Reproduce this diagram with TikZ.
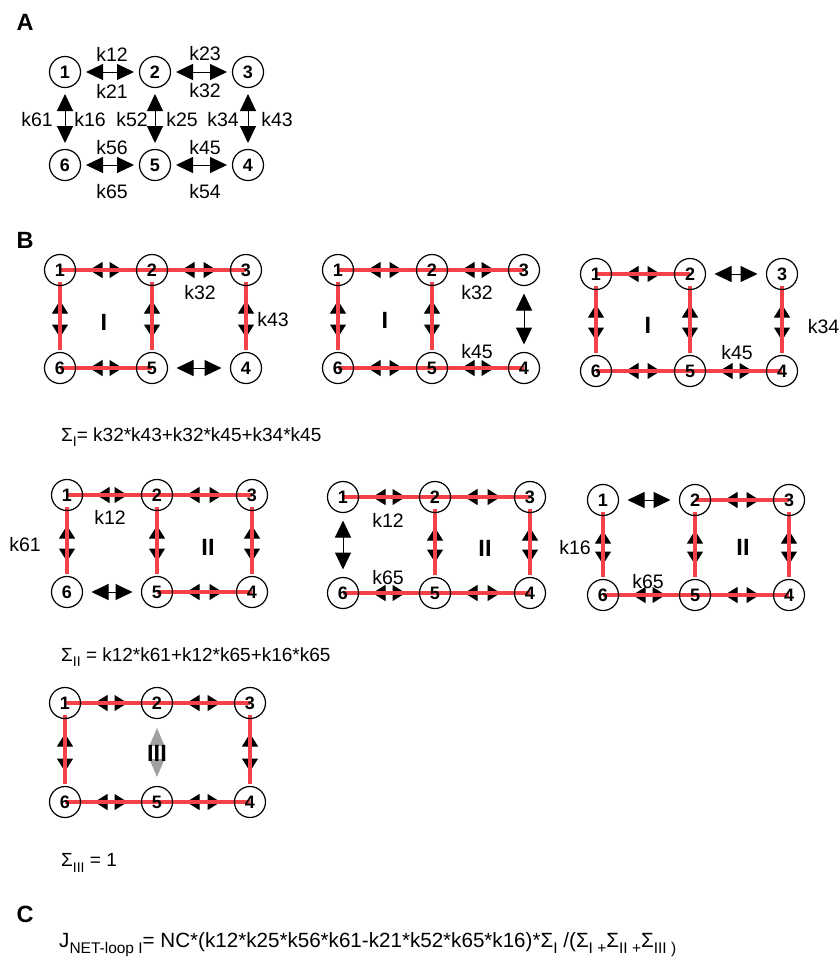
\documentclass[tikz,border=0pt]{standalone}
\usepackage{fontspec}
\setmainfont{Liberation Sans}
\usetikzlibrary{arrows.meta,calc}
\pgfdeclarelayer{back}
\pgfsetlayers{back,main}
\definecolor{bondred}{RGB}{242,66,72}
\definecolor{softgrey}{RGB}{160,160,160}
% small lowered text for indices
\newcommand\lowsub[1]{\raisebox{-0.28em}{\fontsize{14}{14}\selectfont #1}}
\newcommand\lowsubc[1]{\raisebox{-0.28em}{\fontsize{15.5}{15.5}\selectfont #1}}
% six states of a network: prefix, three column positions, two row positions
\newcommand\netnodes[6]{%
  \node[st] (#1-1) at (#2,#5) {1};
  \node[st] (#1-2) at (#3,#5) {2};
  \node[st] (#1-3) at (#4,#5) {3};
  \node[st] (#1-6) at (#2,#6) {6};
  \node[st] (#1-5) at (#3,#6) {5};
  \node[st] (#1-4) at (#4,#6) {4};}
\newcommand\hred[2]{\draw[redline] (#1.center) -- (#2.center);}
\newcommand\vred[2]{\draw[redline] ($(#1.center)+(0,12)$) -- ($(#2.center)+(0,-18)$);}
\tikzset{
  st/.style={circle, draw, line width=1.2pt, minimum size=31pt, inner sep=0pt, outer sep=0pt,
    font=\bfseries\fontsize{18}{18}\selectfont},
  lab/.style={inner sep=0pt, font=\fontsize{19.5}{21}\selectfont},
  eqn/.style={inner sep=0pt, anchor=west, font=\fontsize{19}{21}\selectfont},
  eqc/.style={inner sep=0pt, anchor=west, font=\fontsize{20.6}{22}\selectfont},
  rom/.style={inner sep=0pt, font=\bfseries\fontsize{23.5}{24}\selectfont},
  panel/.style={inner sep=0pt, font=\bfseries\fontsize{23.5}{24}\selectfont},
  bigtips/.style={arrows={Triangle[length=17pt,width=16pt]-Triangle[length=17pt,width=16pt]}},
  smalltips/.style={arrows={Triangle[length=13pt,width=16pt]-Triangle[length=13pt,width=16pt]}},
  aH/.style={bigtips, line width=1pt, shorten <=5.5pt, shorten >=5.5pt},
  aV/.style={bigtips, line width=1pt, shorten <=6.5pt, shorten >=6.5pt},
  plainH/.style={bigtips, line width=1pt, shorten <=9pt, shorten >=9pt},
  plainV/.style={bigtips, line width=1pt, shorten <=8pt, shorten >=8pt},
  redH/.style={smalltips, line width=1pt, shorten <=14pt, shorten >=14pt},
  redV/.style={smalltips, line width=1pt, shorten <=15pt, shorten >=15pt},
  greyarr/.style={draw=softgrey, fill=softgrey, line width=1pt,
    arrows={Triangle[length=18pt,width=15pt]-Triangle[length=18pt,width=15pt]},
    shorten <=9.5pt, shorten >=9.5pt},
  redline/.style={draw=bondred, line width=4.6pt}
}
\begin{document}
\begin{tikzpicture}[x=1pt,y=-1pt]
\useasboundingbox (0,0) rectangle (840,962);

% ---------------- panel A: the full scheme with its rate constants
\node[panel] (pA) at (25,22) {A};
\netnodes{a}{65}{155}{248}{72}{165}
\draw[aH] (a-1) -- (a-2);
\draw[aH] (a-2) -- (a-3);
\draw[aH] (a-6) -- (a-5);
\draw[aH] (a-5) -- (a-4);
\draw[aV] (a-1) -- (a-6);
\draw[aV] (a-2) -- (a-5);
\draw[aV] (a-3) -- (a-4);
\node[lab] (ak12) at (112,54) {k12};
\node[lab] (ak21) at (112,91) {k21};
\node[lab] (ak23) at (205,54) {k23};
\node[lab] (ak32) at (205,91) {k32};
\node[lab] (ak61) at (37,120) {k61};
\node[lab] (ak16) at (90,120) {k16};
\node[lab] (ak52) at (132,120) {k52};
\node[lab] (ak25) at (182,120) {k25};
\node[lab] (ak34) at (223,120) {k34};
\node[lab] (ak43) at (277,120) {k43};
\node[lab] (ak56) at (112,148) {k56};
\node[lab] (ak65) at (112,192) {k65};
\node[lab] (ak45) at (205,148) {k45};
\node[lab] (ak54) at (205,192) {k54};

% ---------------- panel B: spanning trees of loop I
\node[panel] (pB) at (25,240) {B};
\netnodes{p}{60}{152}{246}{270}{368}
\netnodes{q}{338}{432}{524}{270}{368}
\netnodes{r}{596}{690}{782}{274}{371}
\begin{pgfonlayer}{back}
  % tree p
  \draw[redH] (p-1) -- (p-2); \draw[redH] (p-2) -- (p-3); \draw[redH] (p-6) -- (p-5);
  \draw[plainH] (p-5) -- (p-4);
  \draw[redV] (p-1) -- (p-6); \draw[redV] (p-2) -- (p-5); \draw[redV] (p-3) -- (p-4);
  \hred{p-1}{p-2} \hred{p-2}{p-3} \hred{p-6}{p-5}
  \vred{p-1}{p-6} \vred{p-2}{p-5} \vred{p-3}{p-4}
  % tree q
  \draw[redH] (q-1) -- (q-2); \draw[redH] (q-2) -- (q-3); \draw[redH] (q-6) -- (q-5);
  \draw[redH] (q-5) -- (q-4);
  \draw[redV] (q-1) -- (q-6); \draw[redV] (q-2) -- (q-5); \draw[plainV] (q-3) -- (q-4);
  \hred{q-1}{q-2} \hred{q-2}{q-3} \hred{q-6}{q-5} \hred{q-5}{q-4}
  \vred{q-1}{q-6} \vred{q-2}{q-5}
  % tree r
  \draw[redH] (r-1) -- (r-2); \draw[plainH] (r-2) -- (r-3); \draw[redH] (r-6) -- (r-5);
  \draw[redH] (r-5) -- (r-4);
  \draw[redV] (r-1) -- (r-6); \draw[redV] (r-2) -- (r-5); \draw[redV] (r-3) -- (r-4);
  \hred{r-1}{r-2} \hred{r-6}{r-5} \hred{r-5}{r-4}
  \vred{r-1}{r-6} \vred{r-2}{r-5} \vred{r-3}{r-4}
\end{pgfonlayer}
\node[lab] (pk32) at (200,293) {k32};
\node[rom] (pI) at (104,322) {I};
\node[lab] (pk43) at (273,320) {k43};
\node[lab] (qk32) at (477,293) {k32};
\node[rom] (qI) at (385,320) {I};
\node[lab] (qk45) at (477,352) {k45};
\node[rom] (rI) at (648,325) {I};
\node[lab] (rk45) at (737,353) {k45};
\node[lab, anchor=east] (rk34) at (839.5,327) {k34};
\node[eqn] (sigI) at (61,437) {Σ\lowsub{I}= k32*k43+k32*k45+k34*k45};

% ---------------- spanning trees of loop II
\netnodes{s}{67}{157}{252}{495}{592}
\netnodes{t}{343}{435}{530}{497}{593}
\netnodes{u}{603}{695}{789}{500}{595}
\begin{pgfonlayer}{back}
  % tree s
  \draw[redH] (s-1) -- (s-2); \draw[redH] (s-2) -- (s-3); \draw[plainH] (s-6) -- (s-5);
  \draw[redH] (s-5) -- (s-4);
  \draw[redV] (s-1) -- (s-6); \draw[redV] (s-2) -- (s-5); \draw[redV] (s-3) -- (s-4);
  \hred{s-1}{s-2} \hred{s-2}{s-3} \hred{s-5}{s-4}
  \vred{s-1}{s-6} \vred{s-2}{s-5} \vred{s-3}{s-4}
  % tree t
  \draw[redH] (t-1) -- (t-2); \draw[redH] (t-2) -- (t-3); \draw[redH] (t-6) -- (t-5);
  \draw[redH] (t-5) -- (t-4);
  \draw[plainV] (t-1) -- (t-6); \draw[redV] (t-2) -- (t-5); \draw[redV] (t-3) -- (t-4);
  \hred{t-1}{t-2} \hred{t-2}{t-3} \hred{t-6}{t-5} \hred{t-5}{t-4}
  \vred{t-2}{t-5} \vred{t-3}{t-4}
  % tree u
  \draw[plainH] (u-1) -- (u-2); \draw[redH] (u-2) -- (u-3); \draw[redH] (u-6) -- (u-5);
  \draw[redH] (u-5) -- (u-4);
  \draw[redV] (u-1) -- (u-6); \draw[redV] (u-2) -- (u-5); \draw[redV] (u-3) -- (u-4);
  \hred{u-2}{u-3} \hred{u-6}{u-5} \hred{u-5}{u-4}
  \vred{u-1}{u-6} \vred{u-2}{u-5} \vred{u-3}{u-4}
\end{pgfonlayer}
\node[lab] (sk12) at (110,517) {k12};
\node[lab] (sk61) at (25,545) {k61};
\node[rom] (sII) at (208,547) {II};
\node[lab] (tk12) at (388,520) {k12};
\node[lab] (tk65) at (388,578) {k65};
\node[rom] (tII) at (485,548) {II};
\node[lab] (uk16) at (575,548) {k16};
\node[lab] (uk65) at (648,582) {k65};
\node[rom] (uII) at (743,547) {II};
\node[eqn] (sigII) at (61,657) {Σ\lowsub{II} = k12*k61+k12*k65+k16*k65};

% ---------------- spanning tree of loop III
\netnodes{v}{65}{157}{250}{703}{802}
\begin{pgfonlayer}{back}
  \draw[redH] (v-1) -- (v-2); \draw[redH] (v-2) -- (v-3); \draw[redH] (v-6) -- (v-5);
  \draw[redH] (v-5) -- (v-4);
  \draw[redV] (v-1) -- (v-6); \draw[greyarr] (v-2) -- (v-5); \draw[redV] (v-3) -- (v-4);
  \hred{v-1}{v-2} \hred{v-2}{v-3} \hred{v-6}{v-5} \hred{v-5}{v-4}
  \vred{v-1}{v-6} \vred{v-3}{v-4}
\end{pgfonlayer}
\node[rom] (vIII) at (157,753) {III};
\node[eqn] (sigIII) at (61,863) {Σ\lowsub{III} = 1};

% ---------------- panel C: net flux through loop I
\node[panel] (pC) at (25,914) {C};
\node[eqc] (jnet) at (59,945)
  {J\lowsubc{NET-loop I}= NC*(k12*k25*k56*k61-k21*k52*k65*k16)*Σ\lowsubc{I} /(Σ\lowsubc{I +}Σ\lowsubc{II +}Σ\lowsubc{III )}};
\end{tikzpicture}
\end{document}
